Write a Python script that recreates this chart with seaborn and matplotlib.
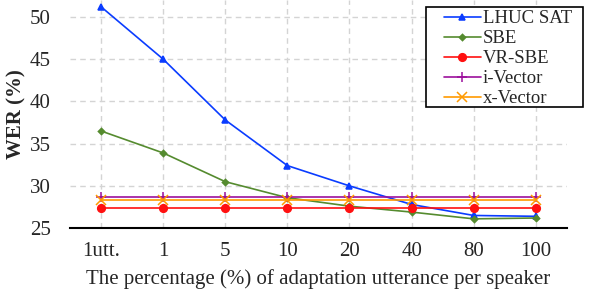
import pandas as pd
import numpy as np
import matplotlib.pyplot as plt
import seaborn as sns
from matplotlib.patches import Rectangle

# Values
x_labels = ['1utt.', '1', '5', '10', '20', '40', '80', '100']
lhuc_sat = [51.2, 45.0, 37.8, 32.4, 30.0, 27.8, 26.5, 26.4]
sbe = [36.5, 33.9, 30.5, 28.6, 27.6, 26.9, 26.1, 26.2]
vr_sbe = [27.4, 27.4, 27.4, 27.4, 27.4, 27.4, 27.4, 27.4]
i_vector = [28.7, 28.7, 28.7, 28.7, 28.7, 28.7, 28.7, 28.7]
x_vector = [28.3, 28.3, 28.3, 28.3, 28.3, 28.3, 28.3, 28.3]

series = {
    'LHUC SAT': lhuc_sat,
    'SBE': sbe,
    'VR-SBE': vr_sbe,
    'i-Vector': i_vector,
    'x-Vector': x_vector,
}

# long form table for seaborn
rows = []
for name, vals in series.items():
    for i, v in enumerate(vals):
        rows.append({'pos': i, 'WER': v, 'System': name})
data = pd.DataFrame(rows)

sns.set_style('white')
plt.rcParams['font.family'] = ['Liberation Serif', 'DejaVu Serif']

colors = {'LHUC SAT': '#0a3cff', 'SBE': '#558b2f', 'VR-SBE': '#ff1010',
          'i-Vector': '#9c109c', 'x-Vector': '#ff9a00'}
markers = {'LHUC SAT': '^', 'SBE': 'D', 'VR-SBE': 'o',
           'i-Vector': '+', 'x-Vector': 'x'}
msizes = {'LHUC SAT': 5, 'SBE': 3.2, 'VR-SBE': 5.5, 'i-Vector': 7, 'x-Vector': 6.5}

fig = plt.figure(figsize=(5.98, 2.91), dpi=100)
ax = fig.add_axes([0.117, 0.216, 0.831, 0.784])

for name in series:
    sub = data[data['System'] == name]
    sns.lineplot(x='pos', y='WER', data=sub, ax=ax, color=colors[name],
                 marker=markers[name], markersize=msizes[name],
                 markeredgecolor=colors[name], markeredgewidth=1.1,
                 linewidth=1.2, label=name)

ax.set_xlim(-0.5, 7.5)
ax.set_ylim(25, 52)
ax.set_xticks(range(len(x_labels)))
ax.set_xticklabels(x_labels)
ax.set_yticks([25, 30, 35, 40, 45, 50])
ax.tick_params(axis='x', labelsize=15, length=0, pad=10)
ax.tick_params(axis='y', labelsize=15, length=0, pad=14)
ax.grid(True, linestyle=(0, (4, 3)), color='#d4d4d4', linewidth=1)
for s in ['left', 'right', 'top']:
    ax.spines[s].set_visible(False)
ax.spines['bottom'].set_color('black')
ax.spines['bottom'].set_linewidth(1.5)

ax.set_xlabel('The percentage (%) of adaptation utterance per speaker', fontsize=15, labelpad=6)
ax.set_ylabel('WER (%)', fontsize=15, fontweight='bold', labelpad=2)

# legend without its own frame, box drawn separately to match the wide left margin
leg = ax.legend(loc='upper right', bbox_to_anchor=(0.966, 0.985),
                bbox_transform=fig.transFigure, fontsize=13.5, frameon=False,
                handlelength=2.0, handletextpad=0.1, labelspacing=0.155,
                borderpad=0.3, borderaxespad=0)
leg.set_zorder(6)
box = Rectangle((426 / 598, 1 - 107 / 291), 157 / 598, 100 / 291,
                transform=fig.transFigure, facecolor='white',
                edgecolor='black', linewidth=1.2, zorder=5, clip_on=False)
ax.add_patch(box)

fig.savefig('out.png', dpi=100)
